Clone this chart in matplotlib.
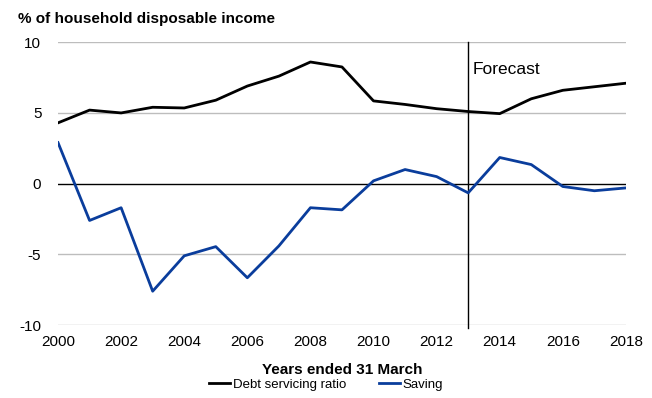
import matplotlib.pyplot as plt

years = list(range(2000, 2019))
debt_servicing = [4.3, 5.2, 5.0, 5.4, 5.35, 5.9, 6.9, 7.6, 8.6, 8.25,
                  5.85, 5.6, 5.3, 5.1, 4.95, 6.0, 6.6, 6.85, 7.1]
saving = [2.9, -2.6, -1.7, -7.6, -5.1, -4.45, -6.65, -4.4, -1.7, -1.85,
          0.2, 1.0, 0.5, -0.65, 1.85, 1.35, -0.2, -0.5, -0.3]
forecast_start = 2013

plt.rcParams['font.family'] = ['Liberation Sans', 'DejaVu Sans']
plt.rcParams['axes.unicode_minus'] = False

fig = plt.figure(figsize=(6.52, 3.98), dpi=100)
ax = fig.add_axes([0.089, 0.183, 0.871, 0.711])

for y in [-10, -5, 5, 10]:
    ax.axhline(y, color='#bdbdbd', lw=1, zorder=1)
ax.axhline(0, color='black', lw=1, zorder=1)
ax.axvline(forecast_start, color='black', lw=1, zorder=1, ymin=-0.01, clip_on=False)

ax.plot(years, debt_servicing, color='black', lw=2, label='Debt servicing ratio', zorder=3)
ax.plot(years, saving, color='#0a3d9c', lw=2, label='Saving', zorder=3)

ax.text(forecast_start + 0.15, 8.1, 'Forecast', fontsize=12.5, va='center')

ax.set_xlim(2000, 2018)
ax.set_ylim(-10, 10)
ax.set_xticks(range(2000, 2019, 2))
ax.set_yticks([-10, -5, 0, 5, 10])
ax.tick_params(length=0, labelsize=11, pad=7)
ax.tick_params(axis='y', pad=12)
for s in ax.spines.values():
    s.set_visible(False)

ax.set_xlabel('Years ended 31 March', fontsize=11, fontweight='bold', labelpad=10)
fig.text(0.028, 0.952, '% of household disposable income', fontsize=11,
         fontweight='bold', va='center')

fig.legend(loc='lower center', bbox_to_anchor=(0.5, -0.012), ncol=2, frameon=False,
           fontsize=9.5, handlelength=1.6, handletextpad=0.2, columnspacing=2.5)

fig.savefig('out.png', dpi=100)
